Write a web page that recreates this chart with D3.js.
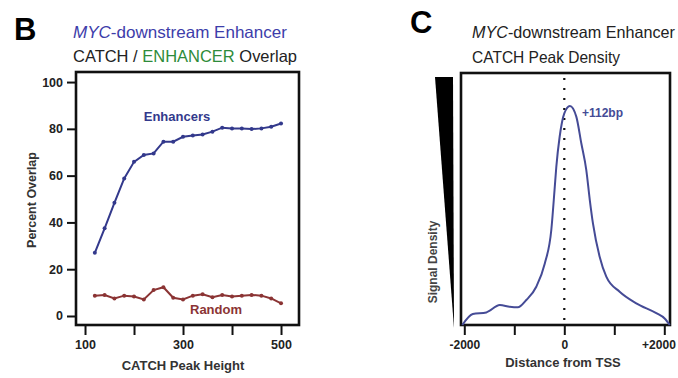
<!DOCTYPE html>
<html>
<head>
<meta charset="utf-8">
<script src="https://cdn.jsdelivr.net/npm/d3@7"></script>
<style>
  body { margin: 0; background: #fff; }
  svg { display: block; font-family: "Liberation Sans", Arial, sans-serif; }
  .tick text { font-weight: bold; fill: #222; }
</style>
</head>
<body>
<svg id="fig" width="678" height="378"></svg>
<script>
// panel B: percent overlap vs CATCH peak height
const peakHeight = [120, 140, 160, 180, 200, 220, 240, 260, 280, 300,
                    320, 340, 360, 380, 400, 420, 440, 460, 480, 500];
const enhancerPct = [27, 37.5, 48.4, 58.8, 65.9, 68.8, 69.5, 74.5, 74.5, 76.6,
                     77.2, 77.6, 78.8, 80.5, 80.2, 80.2, 79.9, 80.2, 80.9, 82.3];
const randomPct = [8.7, 9.0, 7.5, 8.7, 8.3, 7.1, 11.1, 12.3, 7.8, 7.1,
                   8.7, 9.3, 8.0, 9.0, 8.3, 8.7, 9.0, 8.7, 7.5, 5.4];
const yTicksB = [0, 20, 40, 60, 80, 100];
const xTicksB = [100, 200, 300, 400, 500];
const xLabelsB = [100, 300, 500];

// panel C: signal density around TSS
const tssDistance = [-2040, -1830, -1560, -1290, -1090, -930, -760, -560, -390, -260,
                     -195, -160, -93, 0, 112, 240, 340, 440, 510, 573,
                     707, 840, 1107, 1440, 1840, 2007, 2110];
const signalDensity = [0, 0.044, 0.05, 0.079, 0.072, 0.07, 0.099, 0.152, 0.244, 0.377,
                       0.536, 0.627, 0.747, 0.84, 0.869, 0.827, 0.721, 0.615, 0.496, 0.403,
                       0.271, 0.192, 0.132, 0.086, 0.047, 0.026, 0];
const xTicksC = [-2000, -1000, 0, 1000, 2000];
const xLabelsC = {'-2000': '-2000', '0': '0', '2000': '+2000'};

const blue = '#33398c', red = '#8b3434', green = '#2e8b3a', titleBlue = '#3d3daa';

const svg = d3.select('#fig');

// plot frame: black block with a white inset, drawn under the marks
function plotBox(x, y) {
    const [x0, x1] = x.range(), [y1, y0] = y.range(), t = 1.3;
    svg.append('rect').attr('x', x0 - t).attr('y', y0 - t)
        .attr('width', x1 - x0 + 2 * t).attr('height', y1 - y0 + 2 * t).attr('fill', '#111');
    svg.append('rect').attr('x', x0 + t).attr('y', y0 + t)
        .attr('width', x1 - x0 - 2 * t).attr('height', y1 - y0 - 2 * t).attr('fill', '#fff');
}

function styleAxis(g, size) {
    g.select('.domain').remove();
    g.selectAll('.tick line').attr('stroke', '#111').attr('stroke-width', 2);
    g.selectAll('.tick text').style('font-family', null).style('font-size', size);
}

// ---------- panel B ----------
const xB = d3.scaleLinear().domain([81.6, 536.7]).range([76, 299]);
const yB = d3.scaleLinear().domain([-3.85, 104.3]).range([325, 72]);

svg.append('text').attr('x', 14).attr('y', 40)
    .style('font-size', '31px').style('font-weight', 'bold').text('B');

const t1 = svg.append('text').attr('x', 73).attr('y', 38)
    .attr('textLength', 214).attr('lengthAdjust', 'spacingAndGlyphs')
    .style('font-size', '16.5px').style('fill', titleBlue);
t1.append('tspan').style('font-style', 'italic').text('MYC');
t1.append('tspan').text('-downstream Enhancer');

const t2 = svg.append('text').attr('x', 73).attr('y', 62)
    .attr('textLength', 224).attr('lengthAdjust', 'spacingAndGlyphs')
    .style('font-size', '16.5px').style('fill', '#222');
t2.append('tspan').text('CATCH / ');
t2.append('tspan').style('fill', green).text('ENHANCER');
t2.append('tspan').text(' Overlap');

plotBox(xB, yB);

styleAxis(svg.append('g').attr('transform', 'translate(0,325)')
    .call(d3.axisBottom(xB).tickValues(xTicksB).tickSize(10).tickPadding(5)
        .tickFormat(d => xLabelsB.includes(d) ? d : '')), '12.5px');
styleAxis(svg.append('g').attr('transform', 'translate(76,0)')
    .call(d3.axisLeft(yB).tickValues(yTicksB).tickSize(9).tickPadding(4)), '12.5px');

const lineB = d3.line().x((d, i) => xB(peakHeight[i])).y(d => yB(d));

[[enhancerPct, blue], [randomPct, red]].forEach(([vals, col]) => {
    svg.append('path').datum(vals).attr('d', lineB)
        .attr('fill', 'none').attr('stroke', col).attr('stroke-width', 2);
    svg.append('g').selectAll('circle').data(vals).join('circle')
        .attr('cx', (d, i) => xB(peakHeight[i])).attr('cy', d => yB(d))
        .attr('r', 2).attr('fill', col);
});

svg.append('text').attr('x', 177).attr('y', 121).attr('text-anchor', 'middle')
    .style('font-size', '13px').style('font-weight', 'bold').style('fill', blue).text('Enhancers');
svg.append('text').attr('x', 216).attr('y', 314).attr('text-anchor', 'middle')
    .style('font-size', '13px').style('font-weight', 'bold').style('fill', red).text('Random');

svg.append('text').attr('transform', 'translate(36,200) rotate(-90)').attr('text-anchor', 'middle')
    .style('font-size', '12.5px').style('font-weight', 'bold').style('fill', '#333').text('Percent Overlap');
svg.append('text').attr('x', 183).attr('y', 370).attr('text-anchor', 'middle')
    .style('font-size', '13px').style('font-weight', 'bold').style('fill', '#333').text('CATCH Peak Height');

// ---------- panel C ----------
const xC = d3.scaleLinear().domain([-2066, 2114]).range([461, 670]);
const yC = d3.scaleLinear().domain([0, 1]).range([325, 73]);

svg.append('text').attr('x', 410).attr('y', 33)
    .style('font-size', '31px').style('font-weight', 'bold').text('C');

const c1 = svg.append('text').attr('x', 472).attr('y', 38)
    .attr('textLength', 203).attr('lengthAdjust', 'spacingAndGlyphs')
    .style('font-size', '16.5px').style('fill', '#222');
c1.append('tspan').style('font-style', 'italic').text('MYC');
c1.append('tspan').text('-downstream Enhancer');
svg.append('text').attr('x', 472).attr('y', 63)
    .attr('textLength', 148).attr('lengthAdjust', 'spacingAndGlyphs')
    .style('font-size', '16.5px').style('fill', '#222').text('CATCH Peak Density');

plotBox(xC, yC);

const xAxisC = svg.append('g').attr('transform', 'translate(0,325)')
    .call(d3.axisBottom(xC).tickValues(xTicksC).tickSize(10).tickPadding(5)
        .tickFormat(d => xLabelsC[d] || ''));
styleAxis(xAxisC, '12px');
// keep the last label inside the picture
xAxisC.selectAll('.tick text').filter(d => d === 2000)
    .attr('text-anchor', 'end').attr('dx', 11);

// signal wedge
svg.append('path').attr('d', 'M435,77 L453,77 L454,328 Z').attr('fill', '#000');
svg.append('text').attr('transform', 'translate(437,262) rotate(-90)').attr('text-anchor', 'middle')
    .style('font-size', '12px').style('font-weight', 'bold').style('fill', '#444').text('Signal Density');

// TSS dotted line
svg.append('line').attr('x1', xC(0)).attr('x2', xC(0)).attr('y1', 78).attr('y2', 325)
    .attr('stroke', '#111').attr('stroke-width', 2.2).attr('stroke-dasharray', '2,8');

const lineC = d3.line().curve(d3.curveMonotoneX)
    .x((d, i) => xC(tssDistance[i])).y(d => yC(d));
svg.append('path').datum(signalDensity).attr('d', lineC)
    .attr('fill', 'none').attr('stroke', '#454b96').attr('stroke-width', 2);

svg.append('text').attr('x', 582).attr('y', 117)
    .style('font-size', '12px').style('font-weight', 'bold').style('fill', '#454b96').text('+112bp');

svg.append('text').attr('x', 563).attr('y', 367).attr('text-anchor', 'middle')
    .style('font-size', '13px').style('font-weight', 'bold').style('fill', '#333').text('Distance from TSS');
</script>
</body>
</html>
